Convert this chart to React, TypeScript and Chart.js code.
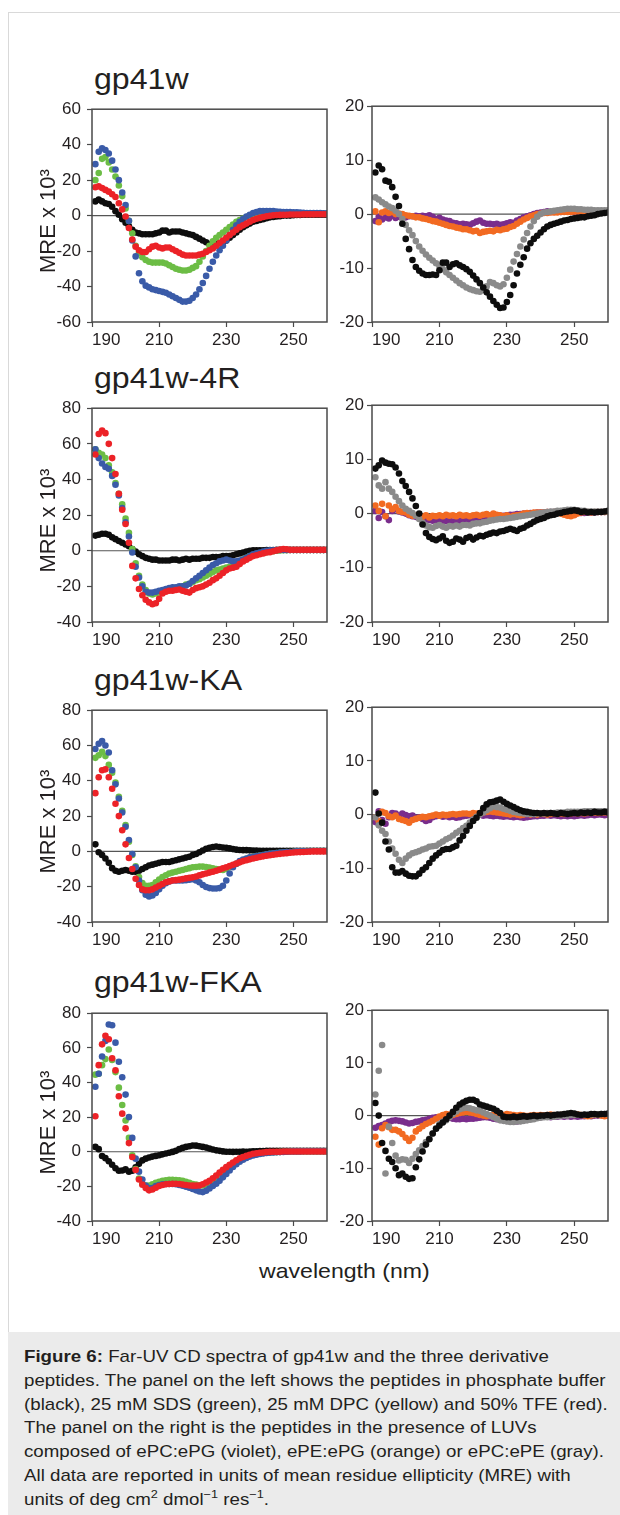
import React, { useEffect, useRef } from 'react';
import { Chart, registerables } from 'chart.js';

Chart.register(...registerables);

const FONT = "'Liberation Sans', Arial, Helvetica, sans-serif";
const TEXT = '#231f20';
Chart.defaults.font.family = FONT;

// ---------- data ----------
const wavelengths = [
  191, 192, 193, 194, 195, 196, 197, 198, 199, 200,
  201, 202, 203, 204, 205, 206, 207, 208, 209, 210,
  211, 212, 213, 214, 215, 216, 217, 218, 219, 220,
  221, 222, 223, 224, 225, 226, 227, 228, 229, 230,
  231, 232, 233, 234, 235, 236, 237, 238, 239, 240,
  241, 242, 243, 244, 245, 246, 247, 248, 249, 250,
  251, 252, 253, 254, 255, 256, 257, 258, 259, 260,
];
const xTickValues = [190, 210, 230, 250];
const xAxisMin = 190;
const xAxisMax = 260;

const panelTitles = ['gp41w', 'gp41w-4R', 'gp41w-KA', 'gp41w-FKA'];

// gp41w, left panel
const gp41wBuffer = [
  8, 9, 8, 7, 6.5, 5, 2.5, 0.5, -2, -4,
  -6, -8, -9.5, -10, -10.5, -10.5, -10.5, -10.5, -10, -9.5,
  -8.5, -8.5, -9.5, -9, -9, -9, -9.5, -10, -10.5, -11,
  -12, -13, -14, -15, -16, -16.5, -16, -15.5, -15, -14,
  -12.5, -11, -9.5, -8, -6.5, -5.5, -4.5, -3.5, -3, -2.5,
  -2, -1.5, -1, -0.8, -0.5, -0.3, 0, 0, 0, 0.2,
  0.3, 0.3, 0.5, 0.5, 0.5, 0.5, 0.5, 0.5, 0.5, 0.5,
];
const gp41wSDS = [
  20, 24, 32, 33, 30, 26, 22, 17, 11, 4,
  -3, -10, -17, -21, -23.5, -25, -26, -26.5, -26.5, -26.5,
  -26.5, -27, -28, -29, -30, -30.5, -31, -31, -30.5, -29.5,
  -28.5, -26, -23, -20, -17, -14.5, -12.5, -11, -9.5, -8,
  -6.5, -5, -3.5, -2.5, -1.7, -0.8, 0, 0.5, 1, 1.2,
  1.2, 1.2, 1.2, 1.2, 1.2, 1.1, 1.1, 1.1, 1, 1,
  1, 1, 1, 1, 1, 1, 1, 1, 1, 1,
];
const gp41wDPC = [
  29, 36, 38, 37, 35, 31, 26, 20, 13, 6,
  -3, -14, -23, -32.5, -37, -39.5, -40.5, -41.5, -42, -42.5,
  -43, -43.5, -44.5, -45.5, -46.5, -47.5, -48.5, -48.5, -48, -46.5,
  -44.5, -41.5, -38, -34, -30, -26, -22.5, -19.5, -17, -14,
  -11, -8, -5.5, -3.5, -2, -0.5, 0.5, 1.5, 2, 2.5,
  2.5, 2.5, 2.5, 2.5, 2.3, 2.2, 2, 2, 2, 1.8,
  1.8, 1.7, 1.6, 1.5, 1.5, 1.5, 1.4, 1.4, 1.3, 1.3,
];
const gp41wTFE = [
  16, 16.5, 15.5, 14.5, 13.5, 12, 10.5, 7, 3.5, -0.5,
  -7, -13.5, -17.5, -19.5, -20.5, -20.5, -19, -17.5, -17, -18,
  -18.5, -18, -18, -19, -20, -21, -22, -22.5, -22.5, -22.5,
  -22.5, -22, -21.5, -20.5, -19.5, -18.5, -17, -15.5, -14, -12.5,
  -11, -9.5, -8, -6.5, -5.5, -4.5, -3.5, -2.5, -1.8, -1.3,
  -0.8, -0.4, -0.1, 0.2, 0.3, 0.4, 0.5, 0.5, 0.6, 0.6,
  0.6, 0.6, 0.7, 0.7, 0.7, 0.7, 0.8, 0.8, 0.8, 0.8,
];
// gp41w, right panel
const gp41wLuvBlack = [
  7.7, 9, 8.3, 6.2, 6, 5, 3.2, 1.5, -1.8, -4.6,
  -6.5, -8.5, -9.8, -10.5, -11, -11.3, -11.3, -11.2, -11.3, -10.4,
  -9, -9, -9.8, -9.3, -9.1, -9.5, -9.8, -10.2, -10.7, -11.4,
  -12.1, -12.8, -13.6, -14.5, -15.3, -16.1, -16.8, -17.4, -17.3, -16.3,
  -15, -13.2, -11, -9.4, -8, -6.4, -5.4, -4.6, -4, -3.4,
  -2.8, -2.3, -2, -1.8, -1.6, -1.4, -1.2, -1.1, -0.9, -0.8,
  -0.7, -0.6, -0.6, -0.4, -0.3, -0.2, 0, 0.1, 0.2, 0.3,
];
const gp41wPCPE = [
  3.1, 2.7, 2.2, 1.8, 1.4, 1.1, 0.6, 0, -0.9, -2,
  -3, -3.9, -5, -6, -6.8, -7.5, -8.1, -8.6, -9.1, -9.6,
  -10.2, -10.8, -11.3, -11.8, -12.3, -12.8, -13.2, -13.6, -13.9, -14.1,
  -14.3, -14.4, -14, -13.4, -12.6, -12.8, -13.2, -13.4, -13, -11.8,
  -10.3, -8.8, -7.4, -6, -4.7, -3.5, -2.3, -1.3, -0.5, 0,
  0.3, 0.4, 0.5, 0.6, 0.7, 0.8, 0.9, 1, 1, 1,
  0.9, 0.9, 0.8, 0.8, 0.8, 0.7, 0.7, 0.7, 0.7, 0.7,
];
const gp41wPEPG = [
  0.5, -1.5, 0.3, 0.5, 0.2, 0.4, 0, 0.1, 0, -0.2,
  -0.3, -0.4, -0.6, -0.6, -0.8, -0.9, -1.1, -1.3, -1.4, -1.6,
  -1.8, -2, -2.2, -2.3, -2.5, -2.6, -2.8, -2.8, -3, -3.2,
  -3.1, -3.5, -3.3, -3.2, -3.1, -3.2, -2.9, -3, -2.8, -2.7,
  -2.4, -2.2, -1.8, -1.4, -1, -0.7, -0.4, -0.2, 0, 0.1,
  0.2, 0.2, 0.3, 0.3, 0.3, 0.4, 0.4, 0.4, 0.4, 0.5,
  0.5, 0.5, 0.5, 0.5, 0.5, 0.5, 0.5, 0.5, 0.5, 0.5,
];
const gp41wPCPG = [
  -1.3, -0.5, -1, -0.6, -0.8, -0.3, -0.7, -0.5, -0.5, -0.6,
  -0.4, -0.4, -0.3, -0.4, -0.3, -0.4, -0.2, -0.5, -0.9, -0.7,
  -1, -1.2, -1.3, -1.6, -1.7, -1.9, -1.8, -1.9, -2, -1.7,
  -1.4, -1.2, -1.6, -1.8, -1.8, -1.9, -1.8, -2, -1.9, -1.7,
  -1.5, -1.6, -1.2, -0.9, -0.6, -0.4, -0.2, 0, 0.2, 0.3,
  0.4, 0.5, 0.4, 0.4, 0.5, 0.4, 0.5, 0.5, 0.4, 0.5,
  0.5, 0.5, 0.4, 0.5, 0.5, 0.5, 0.4, 0.5, 0.5, 0.5,
];

// gp41w-4R, left panel
const r4Buffer = [
  8.5, 9, 9.5, 9.5, 9, 7.5, 6.5, 5.5, 4.5, 3.5,
  2.5, 1, -0.5, -2, -3, -4, -4.5, -5, -5, -5.5,
  -5.5, -5.5, -5.5, -5, -5, -5.5, -5, -4.5, -5, -4.5,
  -4.5, -4.5, -4, -4, -4, -3.5, -3.5, -3.5, -3, -3,
  -3, -2.5, -2, -1.5, -1, -0.5, 0, 0.2, 0.3, 0.3,
  0.3, 0.4, 0.4, 0.4, 0.5, 0.5, 0.5, 0.5, 0.5, 0.5,
  0.5, 0.5, 0.5, 0.5, 0.5, 0.5, 0.5, 0.5, 0.5, 0.5,
];
const r4SDS = [
  57, 55, 54, 52, 48, 44, 38, 32, 26, 18,
  10, 1, -7, -14, -19, -22, -24, -24.5, -24, -23.5,
  -22.5, -22, -21.5, -21, -21, -20.5, -20, -19, -18.5, -17.5,
  -16.5, -16, -15, -14, -13, -12, -11, -10.5, -10, -9.5,
  -9, -8, -7, -6, -5, -4, -3, -2.5, -2, -1.5,
  -1, -0.8, -0.5, -0.3, 0, 0.2, 0.3, 0.3, 0.4, 0.4,
  0.4, 0.4, 0.4, 0.4, 0.4, 0.4, 0.4, 0.4, 0.4, 0.4,
];
const r4DPC = [
  57, 52, 49, 47, 46, 42, 37, 31, 24, 16,
  8, -1, -9, -15, -20, -23, -23.5, -23.5, -23, -22.5,
  -22, -21.5, -21, -20.5, -20.5, -20, -20, -19.5, -18.5, -17,
  -15.5, -14, -12.5, -11, -9.5, -8, -7, -6, -5.5, -5,
  -5.5, -6, -6, -5.5, -5, -4, -3, -2, -1.5, -1,
  -0.5, 0, 0.2, 0.3, 0.3, 0.4, 0.4, 0.4, 0.4, 0.4,
  0.4, 0.4, 0.4, 0.4, 0.4, 0.4, 0.4, 0.4, 0.4, 0.4,
];
const r4TFE = [
  54, 65.5, 67.5, 66, 60, 52, 43, 32, 23, 15,
  4.5, -8.5, -15.5, -21.5, -25, -27.5, -29, -30, -29.5, -27,
  -24, -23, -22.5, -22.5, -22, -21.8, -22.5, -23, -23.5, -22,
  -21, -20.5, -20, -19, -18, -16.5, -15.5, -14, -12.5, -11,
  -10, -9.5, -9, -7.5, -6, -5, -4, -3, -2.5, -2,
  -1.5, -1, -0.8, -0.3, 0.2, 0.6, 1, 0.8, 0.5, 0.5,
  0.5, 0.5, 0.5, 0.5, 0.5, 0.5, 0.5, 0.5, 0.5, 0.5,
];
// gp41w-4R, right panel
const r4LuvBlack = [
  8.3, 8.9, 9.8, 9.4, 9.2, 9.1, 8.5, 7.4, 6, 5.1,
  4, 2.8, 1.4, 0, -2, -3.6, -4.3, -4.7, -4.9, -4.6,
  -4.2, -5, -5.4, -5.2, -4.6, -4.8, -5.2, -4.5, -4.3, -4.8,
  -4.4, -4.1, -4.2, -3.9, -3.7, -3.5, -3.6, -3.3, -3.2, -3,
  -2.8, -3, -3.2, -2.8, -2.6, -2.2, -1.9, -1.5, -1.2, -1,
  -0.8, -0.5, -0.3, -0.2, 0, 0.1, 0.3, 0.4, 0.5, 0.6,
  0.5, 0.3, 0.4, 0.2, 0.3, 0.2, 0.3, 0.3, 0.4, 0.5,
];
const r4PCPE = [
  6.7, 5.2, 4.6, 5.8, 4.6, 4, 3.1, 2.3, 1.5, 0.9,
  0.5, 0.1, -0.4, -1, -1.7, -2.2, -2.5, -2.6, -2.3, -2.1,
  -2.4, -2.6, -2.3, -2.4, -2.2, -2.4, -2.1, -2.1, -2.2, -1.9,
  -1.8, -1.8, -1.6, -1.5, -1.3, -1.2, -1.1, -1, -1, -0.9,
  -0.8, -0.7, -0.6, -0.5, -0.4, -0.3, -0.2, -0.1, 0, 0.1,
  0.2, 0.3, 0.4, 0.4, 0.5, 0.5, 0.6, 0.7, 0.7, 0.7,
  0.6, 0.5, 0.5, 0.4, 0.4, 0.4, 0.4, 0.4, 0.4, 0.4,
];
const r4PEPG = [
  1.5, 0.5, 1.8, -0.5, 1.5, 0.8, 1.2, 0.5, 0.3, 0.2,
  -0.2, -0.4, -0.3, -0.5, -0.6, -0.3, -0.7, -0.4, -0.5, -0.3,
  -0.5, -0.2, -0.4, -0.3, -0.5, -0.2, -0.4, -0.3, -0.5, -0.3,
  -0.2, -0.4, -0.2, -0.1, -0.3, 0, -0.2, -0.3, -0.5, -0.3,
  -0.6, -0.4, -0.3, -0.2, 0, 0.1, 0, 0.2, 0.2, 0.2,
  0.2, 0.3, 0.2, 0.3, 0.2, 0, -0.2, -0.4, -0.5, -0.3,
  0, 0.2, 0.3, 0.3, 0.2, 0.3, 0.3, 0.3, 0.3, 0.3,
];
const r4PCPG = [
  0.5, -0.8, 0.3, -0.5, -1.2, 0.5, 0.8, 0.4, 0.2, 0,
  -0.3, -0.5, -0.6, -0.8, -1, -1.1, -1.2, -1.3, -1.2, -1.4,
  -1.3, -1.4, -1.2, -1.5, -1.3, -1.4, -1.2, -1.3, -1.1, -1,
  -1.1, -0.9, -0.8, -0.8, -0.6, -0.6, -0.5, -0.4, -0.4, -0.3,
  -0.2, -0.2, -0.1, -0.1, 0, 0, 0.1, 0.1, 0.2, 0.2,
  0.2, 0.3, 0.3, 0.3, 0.3, 0.4, 0.4, 0.3, 0.2, 0.2,
  0.2, 0.1, 0.1, 0.2, 0.2, 0.2, 0.3, 0.3, 0.3, 0.3,
];

// gp41w-KA, left panel
const kaBuffer = [
  4, -0.5, -2, -4, -6.5, -9.5, -11, -11.5, -11, -10.5,
  -11, -11.5, -11.5, -11, -10, -9, -8, -7.5, -7, -6.5,
  -6, -6, -6, -5.5, -5, -4.5, -4, -3.5, -3, -2,
  -1.5, -0.5, 0.5, 1.5, 2, 2.5, 2.8, 2.5, 2.2, 2,
  1.7, 1.3, 1, 0.8, 0.7, 0.7, 0.6, 0.5, 0.5, 0.4,
  0.4, 0.4, 0.4, 0.3, 0.3, 0.3, 0.3, 0.3, 0.3, 0.3,
  0.3, 0.3, 0.3, 0.3, 0.3, 0.3, 0.3, 0.3, 0.3, 0.3,
];
const kaSDS = [
  53, 54.5, 56.5, 54, 49, 44.5, 39, 31, 23, 15,
  5.5, -2, -8.5, -14.5, -18, -19.5, -19.5, -19, -17.5, -16,
  -14.5, -13.5, -12.5, -12, -11.5, -11, -10.5, -10, -9.5, -9,
  -8.8, -8.6, -8.6, -8.8, -9.2, -9.6, -10, -10.3, -10.5, -10,
  -9, -8, -7, -6, -5, -4.2, -3.6, -3, -2.6, -2.3,
  -2, -1.7, -1.4, -1.2, -1, -0.8, -0.6, -0.4, -0.3, -0.2,
  0, 0, 0.1, 0.2, 0.2, 0.2, 0.2, 0.2, 0.2, 0.2,
];
const kaDPC = [
  58, 61, 62.5, 60, 56, 46, 38, 30, 22, 14,
  6.5, -1.5, -9, -16.5, -22, -24.5, -25.5, -25, -23.5, -21.5,
  -19.5, -18, -17, -16.5, -16.5, -16.5, -16.5, -16.3, -16, -15.8,
  -16.5, -17.5, -19, -20.2, -20.8, -21, -21, -20.8, -19.5, -16.5,
  -12.5, -9, -7, -5.5, -4.6, -4, -3.4, -3, -2.7, -2.4,
  -2, -1.6, -1.3, -1.1, -0.9, -0.7, -0.5, -0.4, -0.3, -0.2,
  0, 0, 0.1, 0.1, 0.2, 0.2, 0.2, 0.2, 0.2, 0.2,
];
const kaTFE = [
  33, 42, 46, 46.5, 42, 35.5, 27, 20, 12, 4,
  -3.7, -10, -15.5, -19, -21.5, -22, -22, -21.5, -20.5, -19.5,
  -18.5, -17.5, -17, -16.5, -16.3, -16, -15.7, -15.3, -15, -14.7,
  -14.2, -13.6, -13, -12.5, -12, -11.5, -11, -10.3, -9.6, -9,
  -8.3, -7.6, -6.9, -6.2, -5.5, -5, -4.5, -4, -3.6, -3.2,
  -2.8, -2.5, -2.2, -1.9, -1.6, -1.4, -1.2, -1, -0.8, -0.6,
  -0.5, -0.4, -0.3, -0.2, -0.1, 0, 0, 0, 0, 0,
];
// gp41w-KA, right panel
const kaLuvBlack = [
  4.1, 0.2, -1.5, -5, -6.5, -9.8, -10.8, -10.8, -10.5, -11,
  -11.4, -11.5, -11.5, -11, -10.3, -9.8, -9, -8.2, -7.6, -7.1,
  -6.6, -6.4, -6.4, -6.1, -5.8, -4.8, -4, -3, -2.1, -1.2,
  -0.6, 0.3, 1.2, 1.9, 2.3, 2.4, 2.6, 2.8, 2.4, 2,
  1.7, 1.4, 1.1, 0.8, 0.6, 0.5, 0.4, 0.3, 0.3, 0.2,
  0.3, 0.2, 0.3, 0.2, 0.1, 0.3, 0.2, 0.1, 0.2, 0.3,
  0.2, 0.4, 0.3, 0.4, 0.3, 0.5, 0.4, 0.4, 0.5, 0.4,
];
const kaPCPE = [
  -0.5, -2, -3, -3.6, -5, -6.3, -7.3, -8.4, -9, -8.2,
  -7.6, -7.2, -7, -6.8, -6.5, -6.3, -6, -5.9, -5.8, -5.4,
  -5, -4.6, -4.3, -3.9, -3.4, -3, -2.5, -2.1, -1.5, -0.9,
  -0.4, 0, 0.4, 0.8, 1.2, 1.5, 1.4, 1.3, 1.1, 0.9,
  0.7, 0.5, 0.4, 0.3, 0.2, 0.1, 0.1, 0.1, 0.2, 0.2,
  0.2, 0.3, 0.3, 0.3, 0.4, 0.4, 0.4, 0.5, 0.5, 0.5,
  0.5, 0.5, 0.6, 0.6, 0.6, 0.6, 0.6, 0.6, 0.6, 0.6,
];
const kaPEPG = [
  -0.5, -1.2, 0.5, 0.3, -0.3, -0.5, -0.2, -0.8, -1, -1.2,
  -1.5, -1, -0.8, -0.6, -0.4, -0.5, -0.3, -0.2, 0, -0.2,
  0, -0.1, 0, 0.1, 0, 0.1, 0.2, 0.2, 0.1, 0.3,
  0.2, 0.3, 0.4, 0.5, 0.6, 0.5, 0.4, 0.3, 0.2, 0.1,
  0, 0.1, 0, -0.1, 0, 0.1, 0, 0.1, 0, 0.1,
  0.1, 0, 0.1, 0.2, 0.1, 0.2, 0.1, 0.2, 0.2, 0.3,
  0.2, 0.3, 0.2, 0.3, 0.3, 0.4, 0.3, 0.4, 0.4, 0.4,
];
const kaPCPG = [
  -1.4, 0.6, -1, -1.7, -0.5, 0.3, 0.2, -0.2, 0.2, -0.1,
  -0.3, -0.2, -0.6, -0.5, -0.8, -1.2, -1, -0.5, -0.3, -0.2,
  -0.4, -0.3, -0.5, -0.4, -0.6, -0.5, -0.3, -0.2, -0.1, 0,
  -0.1, 0, -0.2, -0.1, -0.2, -0.3, -0.2, -0.3, -0.4, -0.3,
  -0.4, -0.5, -0.4, -0.5, -0.6, -0.5, -0.4, -0.3, -0.3, -0.2,
  -0.2, -0.1, -0.2, -0.1, -0.2, -0.3, -0.2, -0.3, -0.2, -0.3,
  -0.2, -0.1, -0.2, -0.1, 0, -0.1, 0, 0, -0.1, 0,
];

// gp41w-FKA, left panel
const fkaBuffer = [
  2.8, 1.5, -2.5, -3.7, -5.5, -7.5, -9.5, -11, -10.8, -10.2,
  -11.5, -11, -9, -7, -5, -4, -3.3, -2.8, -2.4, -2,
  -1.5, -1, -0.6, -0.1, 0.5, 1.5, 2.2, 2.8, 3.2, 3.6,
  3.5, 3.2, 2.8, 2.4, 1.8, 1.3, 0.8, 0.5, 0.2, 0,
  0, -0.1, 0, 0, 0.1, 0, 0.1, 0.2, 0.3, 0.4,
  0.4, 0.5, 0.5, 0.5, 0.5, 0.5, 0.5, 0.5, 0.5, 0.5,
  0.5, 0.5, 0.5, 0.5, 0.5, 0.5, 0.5, 0.5, 0.5, 0.5,
];
const fkaSDS = [
  44.5, 45, 50, 53.5, 59, 53, 46, 37, 27, 18,
  8, -2, -10, -15.5, -18.5, -19.5, -19.5, -18.8, -18, -17.3,
  -16.8, -16.5, -16.2, -16.2, -16.3, -16.5, -16.8, -17.3, -18, -18.6,
  -19, -19.4, -19.5, -19.2, -18.2, -16.8, -15, -13, -11.2, -9.5,
  -8, -6.5, -5.3, -4.3, -3.5, -2.8, -2.2, -1.7, -1.3, -1,
  -0.7, -0.5, -0.4, -0.3, -0.2, -0.1, 0, 0, 0.1, 0.1,
  0.1, 0.2, 0.2, 0.2, 0.2, 0.2, 0.2, 0.2, 0.2, 0.2,
];
const fkaDPC = [
  37.5, 45, 55, 64, 73.5, 73, 63, 52, 43, 33,
  20, 8, -4, -11.5, -16, -19.5, -21, -21, -19.8, -19.2,
  -18.8, -18.6, -18.6, -18.6, -18.8, -19.2, -19.6, -20.2, -20.8, -21.5,
  -22.3, -23, -23.3, -22.5, -21.2, -19.8, -18.5, -16.8, -14.8, -12.8,
  -10.8, -8.8, -7.2, -5.8, -4.6, -3.6, -2.8, -2.2, -1.7, -1.3,
  -1, -0.7, -0.5, -0.4, -0.3, -0.2, -0.1, 0, 0.1, 0.2,
  0.2, 0.2, 0.3, 0.3, 0.3, 0.3, 0.3, 0.3, 0.3, 0.3,
];
const fkaTFE = [
  20.5, 50, 62, 67, 65, 54, 47, 32, 22, 13.5,
  5, -3, -10.5, -16, -19, -21, -22.3, -21.8, -20.8, -19.8,
  -19.2, -18.8, -18.6, -18.5, -18.5, -18.6, -18.9, -19.2, -19.5, -19.6,
  -19.6, -19.5, -18.8, -17.8, -16.8, -15.3, -13.7, -12, -10.4, -8.9,
  -7.5, -6.2, -4.9, -3.8, -3, -2.3, -1.7, -1.2, -0.9, -0.6,
  -0.4, -0.2, -0.1, 0, 0, 0, 0.1, 0.1, 0.1, 0.1,
  0.1, 0.1, 0.1, 0.1, 0.1, 0.1, 0.1, 0.1, 0.1, 0.1,
];
// gp41w-FKA, right panel
const fkaLuvBlack = [
  2.4, 0, -5.2, -6.7, -8.2, -8.8, -10, -11.3, -11, -11.6,
  -12, -11.9, -9.8, -8.3, -6.8, -5.5, -4.5, -3.4, -2.5, -1.9,
  -1.3, -0.7, 0, 0.7, 1.5, 2.1, 2.5, 2.8, 3, 3,
  2.7, 2.1, 1.9, 1.7, 1.5, 1.3, 0.9, 0.5, -0.2, -0.3,
  -0.3, -0.2, -0.3, -0.2, -0.1, -0.2, -0.1, 0, -0.1, 0,
  0, 0.1, 0, 0.1, 0.2, 0.2, 0.3, 0.4, 0.5, 0.4,
  0.2, 0.1, 0.2, 0.1, 0.3, 0.3, 0.2, 0.3, 0.3, 0.4,
];
const fkaPCPE = [
  4, 8.5, 13.4, -11, -2.1, -5.2, -7.6, -8.5, -8.3, -8.4,
  -9, -8.2, -7.3, -6.6, -5.8, -5, -4.4, -3.4, -2.4, -1.6,
  -1.2, -0.9, -0.3, 0.3, 0.8, 1.2, 1.4, 1.5, 1.4, 1.2,
  1, 0.9, 0.6, 0.3, 0, -0.3, -0.6, -0.9, -1, -1.1,
  -1.2, -1.2, -1.1, -1.1, -1, -0.9, -0.8, -0.7, -0.5, -0.4,
  -0.3, -0.3, -0.2, -0.2, -0.1, 0, 0, 0, 0.1, 0.1,
  0.1, 0.1, 0.1, 0.2, 0.2, 0.2, 0.2, 0.3, 0.3, 0.3,
];
const fkaPEPG = [
  -4, -5.5, -2.4, -1.8, -2.2, -2.7, -2.7, -3, -3.5, -4.2,
  -4.8, -4.2, -3, -2.5, -2, -1.6, -1.3, -1, -0.6, -0.2,
  0.1, 0.3, 0.2, 0.1, 0.3, 0.5, 0.6, 0.7, 0.6, 0.5,
  0.3, 0.1, 0, -0.1, 0, 0.1, 0, -0.1, 0.1, 0.3,
  0.2, 0.1, 0, 0.1, 0, -0.1, 0, 0.1, 0, 0.1,
  0, 0.1, 0.2, 0.1, 0, 0.1, 0.2, 0.1, 0.2, 0.1,
  0.2, 0.1, 0, -0.1, 0, 0.1, 0.1, 0, -0.1, 0,
];
const fkaPCPG = [
  -2.3, -2, -1.8, -1.5, -1.2, -1, -0.9, -1, -1.1, -1.3,
  -1.5, -1.4, -1.2, -1.1, -0.9, -0.8, -0.6, -0.4, -0.3, -0.3,
  -0.4, -0.5, -0.4, -0.6, -0.7, -0.7, -0.6, -0.7, -0.6, -0.6,
  -0.5, -0.4, -0.3, -0.3, -0.4, -0.6, -0.7, -0.8, -0.9, -1,
  -1, -1.1, -1.1, -1, -0.9, -0.8, -0.6, -0.5, -0.4, -0.3,
  -0.2, -0.2, -0.3, -0.2, -0.2, -0.1, -0.2, -0.1, -0.2, -0.1,
  -0.2, -0.1, -0.1, 0, -0.1, 0, 0, 0.1, 0, 0,
];

// ---------- styles ----------
const COLORS = {
  black: '#0d0d0d',
  green: '#6cbd45',
  blue: '#3a5ba8',
  red: '#ec2227',
  violet: '#7a2d8c',
  orange: '#f26a22',
  gray: '#8a8a8a',
};

type Series = { label: string; values: number[]; color: string };

const framePlugin = {
  id: 'frame',
  beforeDatasetsDraw(chart: any) {
    const { ctx, chartArea: a } = chart;
    const y0 = chart.scales.y.getPixelForValue(0);
    ctx.save();
    ctx.strokeStyle = '#555555';
    ctx.lineWidth = 1.2;
    ctx.beginPath();
    ctx.moveTo(a.left, y0);
    ctx.lineTo(a.right, y0);
    ctx.stroke();
    ctx.restore();
  },
  afterDatasetsDraw(chart: any) {
    const { ctx, chartArea: a } = chart;
    ctx.save();
    ctx.strokeStyle = '#4a4a4a';
    ctx.lineWidth = 1.5;
    ctx.strokeRect(a.left, a.top, a.right - a.left, a.bottom - a.top);
    ctx.restore();
  },
};

type PanelProps = {
  x: number;
  width: number;
  plotTop: number;
  plotBottom: number;
  axisWidth: number;
  padRight: number;
  yMin: number;
  yMax: number;
  yStep: number;
  series: Series[];
  yTitle: boolean;
  labelPad: number;
};

function Panel(p: PanelProps) {
  const ref = useRef<HTMLCanvasElement>(null);
  const top = p.plotTop - 12;
  const height = 12 + (p.plotBottom - p.plotTop) + 30;
  useEffect(() => {
    if (!ref.current) return;
    const chart = new Chart(ref.current, {
      type: 'scatter',
      data: {
        datasets: p.series.map((s) => ({
          label: s.label,
          data: wavelengths.map((w, i) => ({ x: w, y: s.values[i] })),
          backgroundColor: s.color,
          borderColor: s.color,
          pointRadius: 3.3,
          pointHoverRadius: 3.3,
          pointBorderWidth: 0,
          showLine: false,
        })),
      },
      options: {
        animation: false,
        responsive: false,
        devicePixelRatio: 1,
        events: [],
        layout: { padding: { left: 0, right: p.padRight, top: 12, bottom: 0 } },
        plugins: {
          legend: { display: false },
          tooltip: { enabled: false },
          title: { display: false },
        },
        scales: {
          x: {
            type: 'linear',
            min: xAxisMin,
            max: xAxisMax,
            afterBuildTicks: (scale: any) => {
              scale.ticks = [...xTickValues, xAxisMax].map((v) => ({ value: v }));
            },
            afterFit: (scale: any) => {
              scale.height = 30;
            },
            ticks: {
              align: 'inner',
              autoSkip: false,
              maxRotation: 0,
              padding: 3,
              color: TEXT,
              font: { family: FONT, size: 17 },
              callback: (v: any) => (xTickValues.includes(v) ? String(v) : ''),
            },
            grid: {
              drawOnChartArea: false,
              drawTicks: true,
              tickLength: 5,
              tickWidth: 1.2,
              tickColor: (ctx: any) =>
                ctx.tick && xTickValues.includes(ctx.tick.value) ? '#4a4a4a' : 'rgba(0,0,0,0)',
            },
            border: { display: false },
          },
          y: {
            type: 'linear',
            min: p.yMin,
            max: p.yMax,
            afterFit: (scale: any) => {
              scale.width = p.axisWidth;
            },
            ticks: {
              stepSize: p.yStep,
              padding: p.labelPad,
              color: TEXT,
              font: { family: FONT, size: 17 },
            },
            grid: {
              drawOnChartArea: false,
              drawTicks: true,
              tickLength: 5,
              tickWidth: 1.2,
              tickColor: '#4a4a4a',
            },
            border: { display: false },
            title: {
              display: p.yTitle,
              text: 'MRE x 10³\u2002',
              color: TEXT,
              font: { family: FONT, size: 22 },
              padding: { top: 36, bottom: 0 },
            },
          },
        },
      },
      plugins: [framePlugin],
    } as any);
    return () => chart.destroy();
  }, []);
  return (
    <canvas
      ref={ref}
      width={p.width}
      height={height}
      style={{ position: 'absolute', left: p.x, top, width: p.width, height }}
    />
  );
}

const rows = [
  {
    title: panelTitles[0], plotTop: 105, plotBottom: 322, titleBase: 89,
    leftMin: -60, leftMax: 60,
    left: [
      { label: '50% TFE', values: gp41wTFE, color: COLORS.red },
      { label: '25 mM DPC', values: gp41wDPC, color: COLORS.blue },
      { label: '25 mM SDS', values: gp41wSDS, color: COLORS.green },
      { label: 'buffer', values: gp41wBuffer, color: COLORS.black },
    ],
    right: [
      { label: 'black', values: gp41wLuvBlack, color: COLORS.black },
      { label: 'ePC:ePE', values: gp41wPCPE, color: COLORS.gray },
      { label: 'ePE:ePG', values: gp41wPEPG, color: COLORS.orange },
      { label: 'ePC:ePG', values: gp41wPCPG, color: COLORS.violet },
    ],
  },
  {
    title: panelTitles[1], plotTop: 404, plotBottom: 622, titleBase: 388,
    leftMin: -40, leftMax: 80,
    left: [
      { label: '50% TFE', values: r4TFE, color: COLORS.red },
      { label: '25 mM DPC', values: r4DPC, color: COLORS.blue },
      { label: '25 mM SDS', values: r4SDS, color: COLORS.green },
      { label: 'buffer', values: r4Buffer, color: COLORS.black },
    ],
    right: [
      { label: 'black', values: r4LuvBlack, color: COLORS.black },
      { label: 'ePC:ePE', values: r4PCPE, color: COLORS.gray },
      { label: 'ePE:ePG', values: r4PEPG, color: COLORS.orange },
      { label: 'ePC:ePG', values: r4PCPG, color: COLORS.violet },
    ],
  },
  {
    title: panelTitles[2], plotTop: 706, plotBottom: 922, titleBase: 690,
    leftMin: -40, leftMax: 80,
    left: [
      { label: '50% TFE', values: kaTFE, color: COLORS.red },
      { label: '25 mM DPC', values: kaDPC, color: COLORS.blue },
      { label: '25 mM SDS', values: kaSDS, color: COLORS.green },
      { label: 'buffer', values: kaBuffer, color: COLORS.black },
    ],
    right: [
      { label: 'black', values: kaLuvBlack, color: COLORS.black },
      { label: 'ePC:ePE', values: kaPCPE, color: COLORS.gray },
      { label: 'ePE:ePG', values: kaPEPG, color: COLORS.orange },
      { label: 'ePC:ePG', values: kaPCPG, color: COLORS.violet },
    ],
  },
  {
    title: panelTitles[3], plotTop: 1009, plotBottom: 1221, titleBase: 992,
    leftMin: -40, leftMax: 80,
    left: [
      { label: '50% TFE', values: fkaTFE, color: COLORS.red },
      { label: '25 mM DPC', values: fkaDPC, color: COLORS.blue },
      { label: '25 mM SDS', values: fkaSDS, color: COLORS.green },
      { label: 'buffer', values: fkaBuffer, color: COLORS.black },
    ],
    right: [
      { label: 'black', values: fkaLuvBlack, color: COLORS.black },
      { label: 'ePC:ePE', values: fkaPCPE, color: COLORS.gray },
      { label: 'ePE:ePG', values: fkaPEPG, color: COLORS.orange },
      { label: 'ePC:ePG', values: fkaPCPG, color: COLORS.violet },
    ],
  },
];

const captionLines: React.ReactNode[] = [
  <><b>Figure 6:</b> Far-UV CD spectra of gp41w and the three derivative</>,
  <>peptides. The panel on the left shows the peptides in phosphate buffer</>,
  <>(black), 25 mM SDS (green), 25 mM DPC (yellow) and 50% TFE (red).</>,
  <>The panel on the right is the peptides in the presence of LUVs</>,
  <>composed of ePC:ePG (violet), ePE:ePG (orange) or ePC:ePE (gray).</>,
  <>All data are reported in units of mean residue ellipticity (MRE) with</>,
  <>
    units of deg cm<span style={{ fontSize: '0.68em', position: 'relative', top: '-0.55em' }}>2</span> dmol
    <span style={{ fontSize: '0.68em', position: 'relative', top: '-0.55em' }}>−1</span> res
    <span style={{ fontSize: '0.68em', position: 'relative', top: '-0.55em' }}>−1</span>.
  </>,
];

export default function App() {
  return (
    <div
      style={{
        position: 'absolute',
        left: 0,
        top: 0,
        width: 620,
        height: 1515,
        overflow: 'hidden',
        background: '#ffffff',
        fontFamily: FONT,
        color: TEXT,
      }}
    >
      <div
        style={{
          position: 'absolute',
          left: 8,
          top: 12,
          width: 612,
          height: 1320,
          borderTop: '1px solid #d9d9d9',
          borderLeft: '1px solid #d9d9d9',
          boxSizing: 'border-box',
        }}
      />
      {rows.map((r, i) => (
        <React.Fragment key={i}>
          <div
            style={{
              position: 'absolute',
              left: 94,
              top: r.titleBase - 25.4,
              fontSize: 30,
              lineHeight: '30px',
              whiteSpace: 'nowrap',
              transform: 'scaleX(1.07)',
              transformOrigin: 'left top',
            }}
          >
            {r.title}
          </div>
          <Panel
            x={0}
            width={335}
            plotTop={r.plotTop}
            plotBottom={r.plotBottom}
            axisWidth={92}
            padRight={8}
            yMin={r.leftMin}
            yMax={r.leftMax}
            yStep={20}
            series={r.left}
            yTitle={true}
            labelPad={6}
          />
          <Panel
            x={335}
            width={285}
            plotTop={r.plotTop}
            plotBottom={r.plotBottom}
            axisWidth={37}
            padRight={12}
            yMin={-20}
            yMax={20}
            yStep={10}
            series={r.right}
            yTitle={false}
            labelPad={3}
          />
        </React.Fragment>
      ))}
      <div
        style={{
          position: 'absolute',
          left: 259,
          top: 1260,
          fontSize: 21,
          lineHeight: '21px',
          whiteSpace: 'nowrap',
          transform: 'scaleX(1.1)',
          transformOrigin: 'left top',
        }}
      >
        wavelength (nm)
      </div>
      <div
        style={{
          position: 'absolute',
          left: 8,
          top: 1332,
          width: 612,
          height: 183,
          background: '#ebebeb',
        }}
      >
        <div
          style={{
            position: 'absolute',
            left: 16,
            top: 13.3,
            fontSize: 17,
            lineHeight: '23.7px',
            whiteSpace: 'nowrap',
            transform: 'scaleX(1.1)',
            transformOrigin: 'left top',
          }}
        >
          {captionLines.map((l, i) => (
            <div key={i}>{l}</div>
          ))}
        </div>
      </div>
    </div>
  );
}
